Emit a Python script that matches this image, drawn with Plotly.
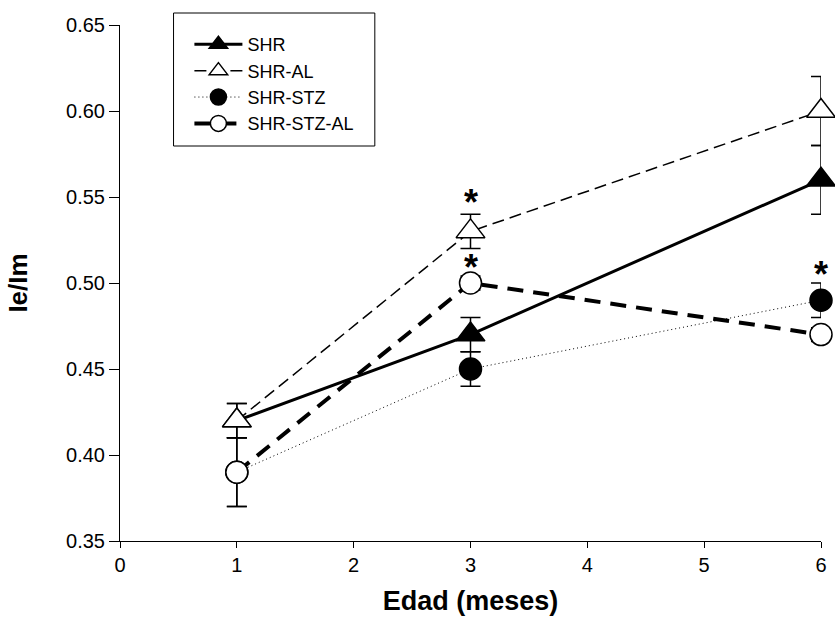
import plotly.graph_objects as go

# ---- data ----
x_months = [1, 3, 6]
series_names = ["SHR", "SHR-AL", "SHR-STZ", "SHR-STZ-AL"]
shr = [0.42, 0.47, 0.56]
shr_err = [0.01, 0.01, 0.02]
shr_al = [0.42, 0.53, 0.60]
shr_al_err = [0.01, 0.01, 0.02]
shr_stz = [0.39, 0.45, 0.49]
shr_stz_err = [0.02, 0.01, 0.01]
shr_stz_al = [0.39, 0.50, 0.47]
shr_stz_al_err = [0.02, 0.004, 0.004]

star_x = [3, 3, 6]
star_y = [0.547, 0.509, 0.505]

x_ticks = [0, 1, 2, 3, 4, 5, 6]
y_ticks = [0.35, 0.40, 0.45, 0.50, 0.55, 0.60, 0.65]

FONT = "Liberation Sans, Arial, sans-serif"

styles = [
    dict(line=dict(color="black", width=3, dash="solid"),
         marker=dict(symbol="triangle-up", size=25, color="black",
                     line=dict(color="black", width=1.5))),
    dict(line=dict(color="black", width=1.5, dash="12px,6px"),
         marker=dict(symbol="triangle-up", size=25, color="white",
                     line=dict(color="black", width=1.5))),
    dict(line=dict(color="black", width=1, dash="1px,3px"),
         marker=dict(symbol="circle", size=22, color="black",
                     line=dict(color="black", width=1.5))),
    dict(line=dict(color="black", width=4, dash="16px,10px"),
         marker=dict(symbol="circle", size=22, color="white",
                     line=dict(color="black", width=1.5))),
]
values = [shr, shr_al, shr_stz, shr_stz_al]
errors = [shr_err, shr_al_err, shr_stz_err, shr_stz_al_err]

fig = go.Figure()
for name, yv, ev, st in zip(series_names, values, errors, styles):
    fig.add_trace(go.Scatter(
        x=x_months, y=yv, name=name, mode="lines+markers",
        line=st["line"], marker=st["marker"], cliponaxis=False,
        error_y=dict(type="data", array=ev, visible=True, color="black",
                     thickness=1.5, width=10),
    ))

for sx, sy in zip(star_x, star_y):
    fig.add_annotation(x=sx, y=sy, text="<b>*</b>", showarrow=False,
                       font=dict(family=FONT, size=36, color="black"),
                       xanchor="center", yanchor="middle")

ML, MR, MT, MB = 120, 8, 25, 83
PW, PH = 835 - ML - MR, 624 - MT - MB

fig.add_shape(type="rect", xref="paper", yref="paper",
              x0=(174 - ML) / PW, x1=(377 - ML) / PW,
              y0=1 - (146 - MT) / PH, y1=1 - (13 - MT) / PH,
              line=dict(color="black", width=1), fillcolor="rgba(0,0,0,0)",
              layer="above")

fig.update_layout(
    width=835, height=624,
    margin=dict(l=ML, r=MR, t=MT, b=MB),
    paper_bgcolor="white", plot_bgcolor="white",
    font=dict(family=FONT, color="black"),
    showlegend=True,
    legend=dict(x=(190 - ML) / PW, y=0.998, xanchor="left", yanchor="top",
                bgcolor="rgba(0,0,0,0)", borderwidth=0,
                font=dict(family=FONT, size=18, color="black"),
                itemwidth=48, traceorder="normal"),
    xaxis=dict(range=[0, 6], tickvals=x_ticks, ticks="outside", ticklen=6,
               tickwidth=1, tickcolor="black", showline=True, linecolor="black",
               linewidth=1, showgrid=False, zeroline=False, mirror=False,
               tickfont=dict(family=FONT, size=20),
               title=dict(text="<b>Edad (meses)</b>", standoff=16,
                          font=dict(family=FONT, size=27))),
    yaxis=dict(range=[0.35, 0.65], tickvals=y_ticks, tickformat=".2f",
               ticks="outside", ticklen=10, tickwidth=1, tickcolor="black",
               showline=True, linecolor="black", linewidth=1, showgrid=False,
               zeroline=False, tickfont=dict(family=FONT, size=20),
               title=dict(text="<b>Ie/Im</b>", standoff=30,
                          font=dict(family=FONT, size=26))),
)

fig.write_html("out.html")
